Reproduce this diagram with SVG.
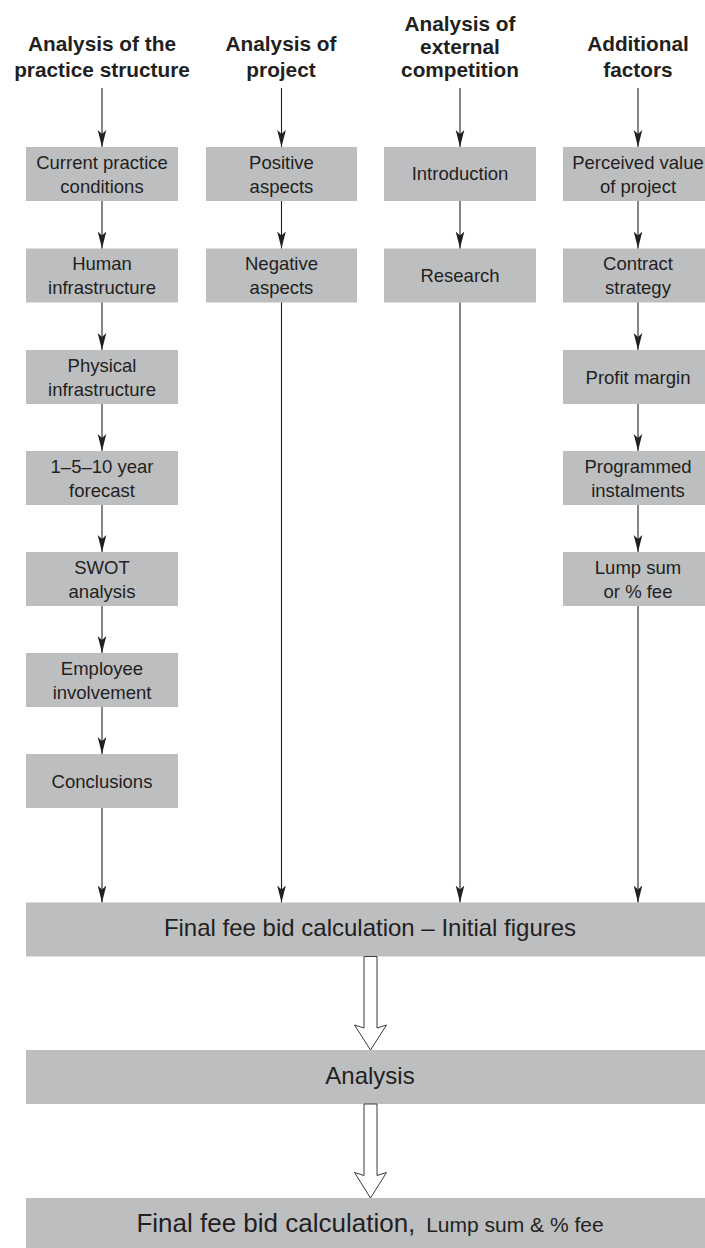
<svg xmlns="http://www.w3.org/2000/svg" width="705" height="1248" viewBox="0 0 705 1248">
  <style>
    .hd { font-family: "Liberation Sans", Arial, sans-serif; font-weight: bold; font-size: 20.8px; fill: #231f20; text-anchor: middle; }
    .bx { fill: #bdbec0; }
    .lb { font-family: "Liberation Sans", Arial, sans-serif; font-size: 18.5px; fill: #231f20; text-anchor: middle; }
    .big { font-family: "Liberation Sans", Arial, sans-serif; font-size: 24px; fill: #231f20; text-anchor: middle; }
    .ln { stroke: #231f20; stroke-width: 1.1; fill: none; marker-end: url(#ah); }
    .hollow { fill: #ffffff; stroke: #3a3a3a; stroke-width: 1; }
  </style>
  <defs>
    <marker id="ah" viewBox="0 -5 17 10" refX="17" refY="0" markerWidth="17" markerHeight="10" markerUnits="userSpaceOnUse" orient="auto">
      <path d="M0,-4.3 L17,0 L0,4.3 L4,0 Z" fill="#231f20"/>
    </marker>
  </defs>

  <rect width="705" height="1248" fill="#ffffff"/>

  <!-- column headings -->
  <g id="head-practice">
    <text class="hd" x="102" y="51">Analysis of the</text>
    <text class="hd" x="102" y="77">practice structure</text>
  </g>
  <g id="head-project">
    <text class="hd" x="281" y="51">Analysis of</text>
    <text class="hd" x="281" y="77">project</text>
  </g>
  <g id="head-competition">
    <text class="hd" x="460" y="31">Analysis of</text>
    <text class="hd" x="460" y="54">external</text>
    <text class="hd" x="460" y="77">competition</text>
  </g>
  <g id="head-factors">
    <text class="hd" x="638" y="51">Additional</text>
    <text class="hd" x="638" y="77">factors</text>
  </g>

  <!-- column 1: practice structure -->
  <g id="current-conditions">
    <rect class="bx" x="26" y="147" width="152" height="54"/>
    <text class="lb" x="102" y="168.5">Current practice</text>
    <text class="lb" x="102" y="192.5">conditions</text>
  </g>
  <g id="human-infrastructure">
    <rect class="bx" x="26" y="248.5" width="152" height="54"/>
    <text class="lb" x="102" y="270">Human</text>
    <text class="lb" x="102" y="294">infrastructure</text>
  </g>
  <g id="physical-infrastructure">
    <rect class="bx" x="26" y="350" width="152" height="54"/>
    <text class="lb" x="102" y="371.5">Physical</text>
    <text class="lb" x="102" y="395.5">infrastructure</text>
  </g>
  <g id="forecast">
    <rect class="bx" x="26" y="451" width="152" height="54"/>
    <text class="lb" x="102" y="472.5">1–5–10 year</text>
    <text class="lb" x="102" y="496.5">forecast</text>
  </g>
  <g id="swot">
    <rect class="bx" x="26" y="552" width="152" height="54"/>
    <text class="lb" x="102" y="573.5">SWOT</text>
    <text class="lb" x="102" y="597.5">analysis</text>
  </g>
  <g id="employee-involvement">
    <rect class="bx" x="26" y="653" width="152" height="54"/>
    <text class="lb" x="102" y="674.5">Employee</text>
    <text class="lb" x="102" y="698.5">involvement</text>
  </g>
  <g id="conclusions">
    <rect class="bx" x="26" y="754" width="152" height="54"/>
    <text class="lb" x="102" y="787.5">Conclusions</text>
  </g>

  <!-- column 2: project -->
  <g id="positive-aspects">
    <rect class="bx" x="206" y="147" width="151" height="54"/>
    <text class="lb" x="281.5" y="168.5">Positive</text>
    <text class="lb" x="281.5" y="192.5">aspects</text>
  </g>
  <g id="negative-aspects">
    <rect class="bx" x="206" y="248.5" width="151" height="54"/>
    <text class="lb" x="281.5" y="270">Negative</text>
    <text class="lb" x="281.5" y="294">aspects</text>
  </g>

  <!-- column 3: external competition -->
  <g id="introduction">
    <rect class="bx" x="384" y="147" width="152" height="54"/>
    <text class="lb" x="460" y="180">Introduction</text>
  </g>
  <g id="research">
    <rect class="bx" x="384" y="248.5" width="152" height="54"/>
    <text class="lb" x="460" y="281.5">Research</text>
  </g>

  <!-- column 4: additional factors -->
  <g id="perceived-value">
    <rect class="bx" x="563" y="147" width="152" height="54"/>
    <text class="lb" x="638" y="168.5">Perceived value</text>
    <text class="lb" x="638" y="192.5">of project</text>
  </g>
  <g id="contract-strategy">
    <rect class="bx" x="563" y="248.5" width="152" height="54"/>
    <text class="lb" x="638" y="270">Contract</text>
    <text class="lb" x="638" y="294">strategy</text>
  </g>
  <g id="profit-margin">
    <rect class="bx" x="563" y="350" width="152" height="54"/>
    <text class="lb" x="638" y="383.5">Profit margin</text>
  </g>
  <g id="programmed-instalments">
    <rect class="bx" x="563" y="451" width="152" height="54"/>
    <text class="lb" x="638" y="472.5">Programmed</text>
    <text class="lb" x="638" y="496.5">instalments</text>
  </g>
  <g id="lump-sum">
    <rect class="bx" x="563" y="552" width="152" height="54"/>
    <text class="lb" x="638" y="573.5">Lump sum</text>
    <text class="lb" x="638" y="597.5">or % fee</text>
  </g>

  <!-- full-width stages -->
  <g id="initial-figures">
    <rect class="bx" x="26" y="902.5" width="690" height="54"/>
    <text class="big" x="370" y="936">Final fee bid calculation – Initial figures</text>
  </g>
  <g id="analysis">
    <rect class="bx" x="26" y="1050" width="690" height="54"/>
    <text class="big" x="370" y="1084">Analysis</text>
  </g>
  <g id="final-calculation">
    <rect class="bx" x="26" y="1198" width="690" height="54"/>
    <text class="big" x="370" y="1232"><tspan font-size="26px">Final fee bid calculation,</tspan><tspan font-size="21px" dx="5"> Lump sum &amp; % fee</tspan></text>
  </g>

  <!-- connectors -->
  <g id="connectors">
    <line class="ln" x1="102" y1="88" x2="102" y2="147"/>
    <line class="ln" x1="281.5" y1="88" x2="281.5" y2="147"/>
    <line class="ln" x1="460" y1="88" x2="460" y2="147"/>
    <line class="ln" x1="638" y1="88" x2="638" y2="147"/>

    <line class="ln" x1="102" y1="201" x2="102" y2="248.5"/>
    <line class="ln" x1="102" y1="302.5" x2="102" y2="350"/>
    <line class="ln" x1="102" y1="404" x2="102" y2="451"/>
    <line class="ln" x1="102" y1="505" x2="102" y2="552"/>
    <line class="ln" x1="102" y1="606" x2="102" y2="653"/>
    <line class="ln" x1="102" y1="707" x2="102" y2="754"/>
    <line class="ln" x1="102" y1="808" x2="102" y2="902.5"/>

    <line class="ln" x1="281.5" y1="201" x2="281.5" y2="248.5"/>
    <line class="ln" x1="281.5" y1="302.5" x2="281.5" y2="902.5"/>

    <line class="ln" x1="460" y1="201" x2="460" y2="248.5"/>
    <line class="ln" x1="460" y1="302.5" x2="460" y2="902.5"/>

    <line class="ln" x1="638" y1="201" x2="638" y2="248.5"/>
    <line class="ln" x1="638" y1="302.5" x2="638" y2="350"/>
    <line class="ln" x1="638" y1="404" x2="638" y2="451"/>
    <line class="ln" x1="638" y1="505" x2="638" y2="552"/>
    <line class="ln" x1="638" y1="606" x2="638" y2="902.5"/>

    <polygon class="hollow" points="364,956.5 377,956.5 377,1028 386.5,1025 370.5,1050 354.5,1025 364,1028"/>
    <polygon class="hollow" points="364,1104 377,1104 377,1175.5 386.5,1172.5 370.5,1198 354.5,1172.5 364,1175.5"/>
  </g>
</svg>
